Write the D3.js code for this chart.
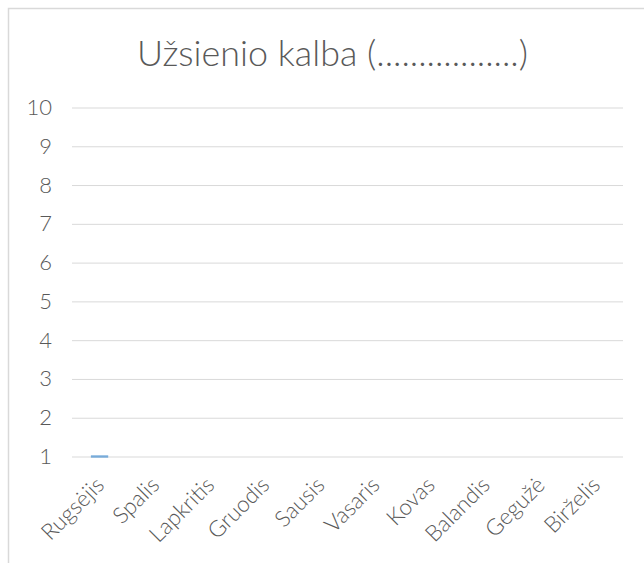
<!DOCTYPE html>
<html>
<head>
<meta charset="utf-8">
<script src="https://cdn.jsdelivr.net/npm/d3@7"></script>
<style>
  html, body { margin: 0; padding: 0; background: #fff; }
  svg { display: block; }
  text { font-family: Lato, "Open Sans", sans-serif; fill: #595959; font-weight: 300; }
</style>
</head>
<body>
<svg id="chart" width="644" height="563"></svg>
<script>
const titleText = "Užsienio kalba (.................)";
const categories = ["Rugsėjis", "Spalis", "Lapkritis", "Gruodis", "Sausis", "Vasaris", "Kovas", "Balandis", "Gegužė", "Birželis"];
const values = [1, null, null, null, null, null, null, null, null, null];
const yTicks = [1, 2, 3, 4, 5, 6, 7, 8, 9, 10];

const svg = d3.select("#chart");
const plot = { left: 72, right: 623, top: 107.5, bottom: 456.5 };

// chart area border
svg.append("rect")
  .attr("x", 8.5).attr("y", 8.5)
  .attr("width", 660).attr("height", 600)
  .attr("fill", "#fff")
  .attr("stroke", "#d9d9d9")
  .attr("stroke-width", 1.5);

const x = d3.scaleBand()
  .domain(categories)
  .range([plot.left, plot.right])
  .paddingInner(0.686)
  .paddingOuter(0.343);

const y = d3.scaleLinear()
  .domain([1, 10])
  .range([plot.bottom, plot.top]);

// y axis with gridlines
const yAxis = d3.axisLeft(y)
  .tickValues(yTicks)
  .tickSize(-(plot.right - plot.left))
  .tickPadding(20)
  .tickFormat(d3.format("d"));

const gy = svg.append("g")
  .attr("transform", `translate(${plot.left},0)`)
  .call(yAxis);
gy.select(".domain").remove();
gy.selectAll(".tick line").attr("stroke", "#d9d9d9").attr("stroke-width", 1);
gy.selectAll(".tick text")
  .attr("fill", "#595959")
  .style("font-family", "Lato, 'Open Sans', sans-serif")
  .style("font-weight", "300")
  .style("font-size", "22px");

// bars
const data = categories.map((c, i) => ({ c, v: values[i] })).filter(d => d.v != null);
svg.append("g").selectAll("rect")
  .data(data)
  .enter().append("rect")
  .attr("x", d => x(d.c))
  .attr("width", x.bandwidth())
  .attr("y", d => Math.min(y(d.v), y(1)) - 1.2)
  .attr("height", d => Math.max(Math.abs(y(1) - y(d.v)), 0) + 2.4)
  .attr("fill", "#5b9bd5")
  .attr("opacity", 0.8);

// x labels, rotated
svg.append("g").selectAll("text")
  .data(categories)
  .enter().append("text")
  .attr("transform", d => `translate(${x(d) + x.bandwidth() / 2 + 6},${plot.bottom + 30}) rotate(-45)`)
  .attr("text-anchor", "end")
  .style("font-size", "22.5px")
  .text(d => d);

// title
const title = svg.append("text")
  .attr("x", 332.5)
  .attr("y", 66)
  .attr("text-anchor", "middle")
  .style("font-size", "32px")
  .text(titleText);
const tw = title.node().getComputedTextLength();
title.style("font-size", (32 * 391 / tw).toFixed(2) + "px");
</script>
</body>
</html>
